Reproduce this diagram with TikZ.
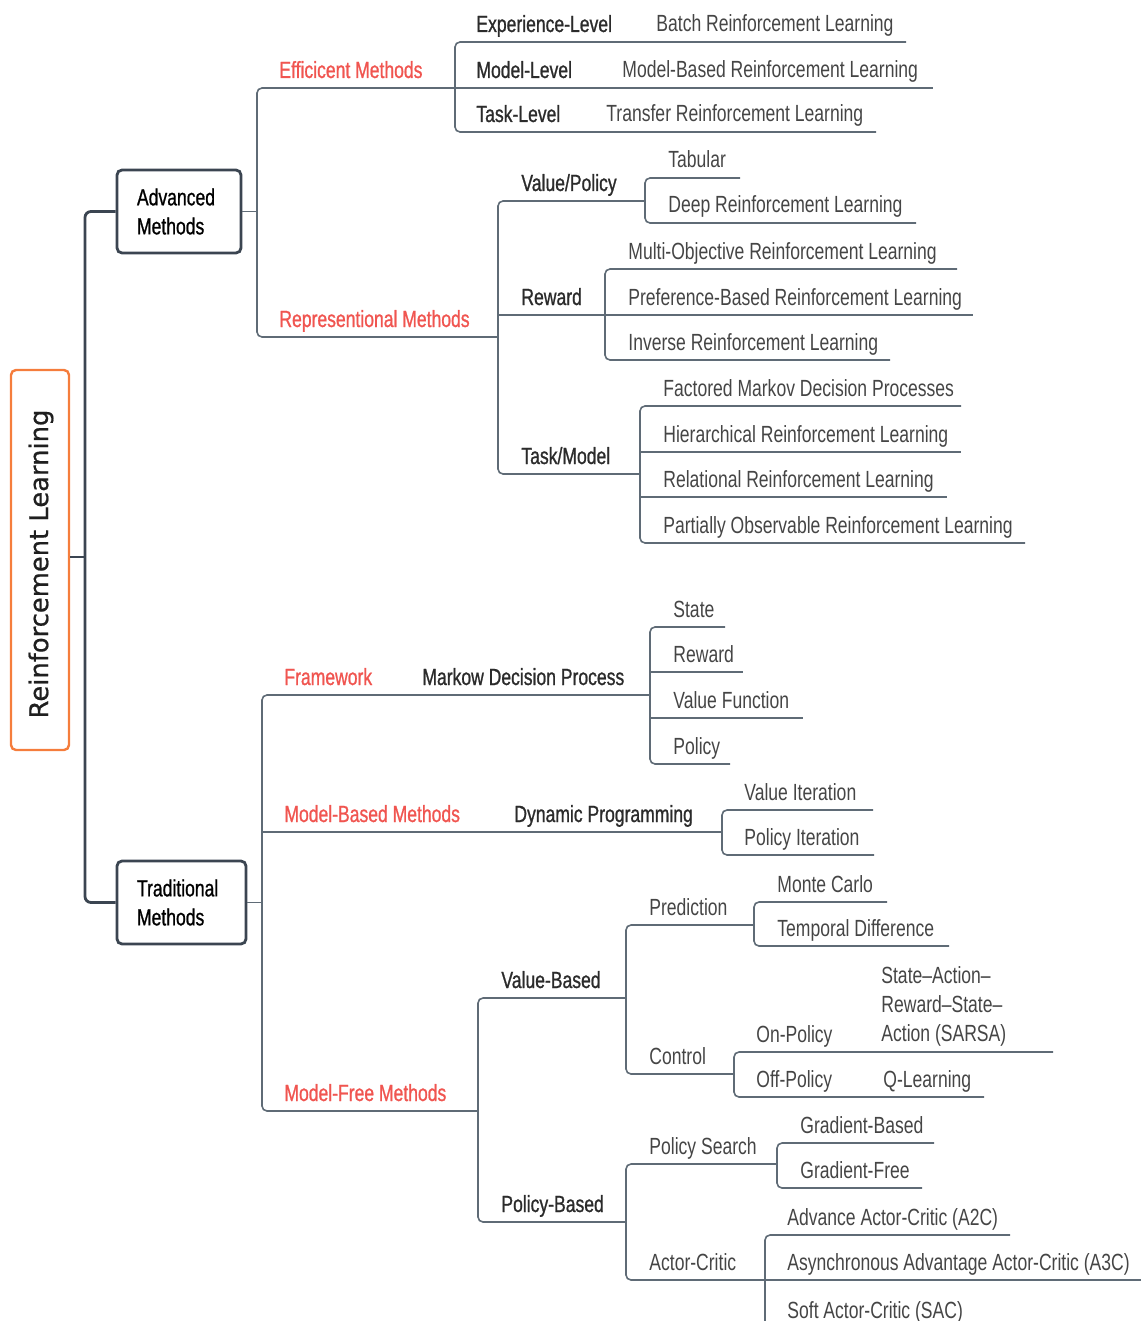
\documentclass[tikz,border=0pt]{standalone}
\usepackage{fontspec}
\setmainfont{Liberation Sans}[FakeStretch=0.75]
\newfontfamily\leaffont{Liberation Sans}[FakeStretch=0.75]
\newfontfamily\medfont{Liberation Sans}[FakeStretch=0.75,FakeBold=0.9]
\newfontfamily\rootfont{DejaVu Sans}[FakeBold=0.6]

\definecolor{linegray}{HTML}{5F6B76}
\definecolor{boxdark}{HTML}{3B4551}
\definecolor{leafgray}{HTML}{454545}
\definecolor{catgray}{HTML}{2B2B2B}
\definecolor{hotred}{RGB}{240,85,80}
\definecolor{rootorange}{RGB}{245,125,60}

% one labelled branch: name, style, bracket x, line y, line end x, text x, text
\newcommand\twig[7]{%
  \coordinate (#1-a) at (#3,#4);
  \coordinate (#1-b) at (#5,#4);
  \node[#2] (#1) at (#6,{#4-10}) {#7};}
% bracket joining the first and last branch of a group
\newcommand\mmfork[2]{\draw[conn,rounded corners=2.5pt] (#1-b) -- (#1-a) -- (#2-a) -- (#2-b);}
% straight underline of a middle branch
\newcommand\mmstem[1]{\draw[conn] (#1-a) -- (#1-b);}

\begin{document}
\begin{tikzpicture}[x=0.5pt,y=-0.5pt,
  conn/.style={draw=linegray, line width=0.8pt},
  trunk/.style={draw=boxdark, line width=1.4pt, rounded corners=3pt},
  lab/.style={anchor=base west, inner sep=0pt, text=leafgray, font=\leaffont\fontsize{11.7}{14.5}\selectfont},
  cat/.style={lab, text=catgray, font=\medfont\fontsize{11.7}{14.5}\selectfont},
  hot/.style={lab, text=hotred, font=\medfont\fontsize{11.7}{14.5}\selectfont},
  methodbox/.style={draw=boxdark, line width=1.4pt, rounded corners=2.5pt,
    inner xsep=10pt, inner ysep=0pt, align=left, text=black,
    font=\medfont\fontsize{11.7}{14.5}\selectfont, minimum height=41.5pt},
  rootbox/.style={draw=rootorange, line width=1.2pt, rounded corners=2.5pt,
    minimum width=29pt, minimum height=190pt, inner sep=0pt},
]
\path[use as bounding box] (0,0) rectangle (1141,1321);
\clip (0,0) rectangle (1141,1321);

% root and the two method families
\node[rootbox] (root) at (40,560) {};
\node[rotate=90, font=\rootfont\fontsize{12.9}{15}\selectfont, text=black!88] (roottext) at (41,564) {Reinforcement Learning};
\node[methodbox, text width=42pt] (adv) at (179,211.5) {Advanced\\Methods};
\node[methodbox, text width=44.5pt] (trad) at (181.5,902.5) {Traditional\\Methods};

\coordinate (trunk) at (85,557);
\draw[trunk, rounded corners=0pt] (root.east |- trunk) -- (trunk);
\draw[trunk] (adv.west) -- (trunk |- adv.west) -- (trunk |- trad.west) -- (trad.west);

% ---------------- advanced methods ----------------
\twig{eff}{hot}{257}{88}{455}{279}{Efficicent Methods}
\twig{rep}{hot}{257}{337}{498}{279}{Representional Methods}
\draw[conn] (adv.east) -- (adv.east -| eff-a);
\mmfork{eff}{rep}

\twig{exl}{cat}{455}{42}{906}{476}{Experience-Level}
\twig{mdl}{cat}{455}{88}{933}{476}{Model-Level}
\twig{tkl}{cat}{455}{132}{876}{476}{Task-Level}
\node[lab] (batch) at (656,32) {Batch Reinforcement Learning};
\node[lab] (mbrl) at (622,78) {Model-Based Reinforcement Learning};
\node[lab] (trl) at (606,122) {Transfer Reinforcement Learning};
\mmfork{exl}{tkl}
\mmstem{mdl}

\twig{vp}{cat}{498}{201}{645}{521}{Value/Policy}
\twig{rw}{cat}{498}{315}{605}{521}{Reward}
\twig{tm}{cat}{498}{474}{640}{521}{Task/Model}
\mmfork{vp}{tm}
\mmstem{rw}

\twig{tab}{lab}{645}{178}{740}{668}{Tabular}
\twig{drl}{lab}{645}{223}{916}{668}{Deep Reinforcement Learning}
\mmfork{tab}{drl}

\twig{moe}{lab}{605}{269}{957}{628}{Multi-Objective Reinforcement Learning}
\twig{pbr}{lab}{605}{315}{973}{628}{Preference-Based Reinforcement Learning}
\twig{irl}{lab}{605}{360}{890}{628}{Inverse Reinforcement Learning}
\mmfork{moe}{irl}
\mmstem{pbr}

\twig{fmd}{lab}{640}{406}{961}{663}{Factored Markov Decision Processes}
\twig{hrl}{lab}{640}{452}{961}{663}{Hierarchical Reinforcement Learning}
\twig{rrl}{lab}{640}{497}{947}{663}{Relational Reinforcement Learning}
\twig{por}{lab}{640}{543}{1025}{663}{Partially Observable Reinforcement Learning}
\mmfork{fmd}{por}
\mmstem{hrl}
\mmstem{rrl}

% ---------------- traditional methods ----------------
\twig{fw}{hot}{262}{695}{650}{284}{Framework}
\twig{mb}{hot}{262}{832}{722}{284}{Model-Based Methods}
\twig{mf}{hot}{262}{1111}{478}{284}{Model-Free Methods}
\node[cat] (mdp) at (422,685) {Markow Decision Process};
\node[cat] (dp) at (514,822) {Dynamic Programming};
\draw[conn] (trad.east) -- (trad.east -| fw-a);
\mmfork{fw}{mf}
\mmstem{mb}

\twig{st}{lab}{650}{627}{725}{673}{State}
\twig{rwd}{lab}{650}{672}{743}{673}{Reward}
\twig{vf}{lab}{650}{718}{803}{673}{Value Function}
\twig{pol}{lab}{650}{764}{730}{673}{Policy}
\mmfork{st}{pol}
\mmstem{rwd}
\mmstem{vf}

\twig{vi}{lab}{722}{810}{873}{744}{Value Iteration}
\twig{pi}{lab}{722}{855}{874}{744}{Policy Iteration}
\mmfork{vi}{pi}

\twig{vb}{cat}{478}{998}{626}{501}{Value-Based}
\twig{pb}{cat}{478}{1222}{626}{501}{Policy-Based}
\mmfork{vb}{pb}

\twig{pred}{lab}{626}{925}{754}{649}{Prediction}
\twig{ctrl}{lab}{626}{1074}{734}{649}{Control}
\mmfork{pred}{ctrl}

\twig{mc}{lab}{754}{902}{887}{777}{Monte Carlo}
\twig{td}{lab}{754}{946}{949}{777}{Temporal Difference}
\mmfork{mc}{td}

\twig{onp}{lab}{734}{1052}{1053}{756}{On-Policy}
\twig{offp}{lab}{734}{1097}{984}{756}{Off-Policy}
\node[lab, anchor=south west, align=left] (sarsa) at (881,1047) {State–Action–\\Reward–State–\\Action (SARSA)};
\node[lab] (ql) at (883,1087) {Q-Learning};
\mmfork{onp}{offp}

\twig{ps}{lab}{626}{1164}{777}{649}{Policy Search}
\twig{ac}{lab}{626}{1280}{765}{649}{Actor-Critic}
\mmfork{ps}{ac}

\twig{gb}{lab}{777}{1143}{934}{800}{Gradient-Based}
\twig{gf}{lab}{777}{1188}{922}{800}{Gradient-Free}
\mmfork{gb}{gf}

\twig{atwo}{lab}{765}{1235}{1010}{787}{Advance Actor-Critic (A2C)}
\twig{athree}{lab}{765}{1280}{1141}{787}{Asynchronous Advantage Actor-Critic (A3C)}
\twig{sac}{lab}{765}{1328}{980}{787}{Soft Actor-Critic (SAC)}
\mmfork{atwo}{sac}
\mmstem{athree}
\end{tikzpicture}
\end{document}
